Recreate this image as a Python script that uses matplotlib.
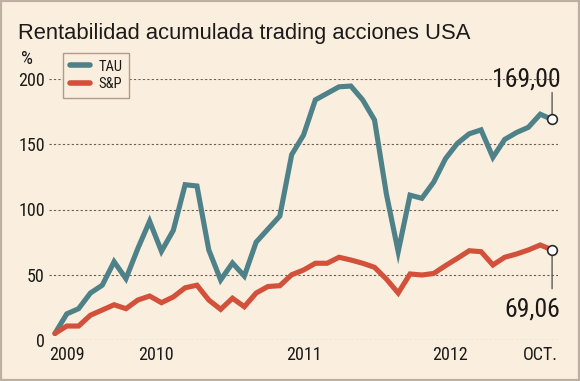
"""Rentabilidad acumulada trading acciones USA: TAU vs S&P."""

import matplotlib

matplotlib.use("Agg")
import matplotlib.pyplot as plt
import numpy as np
from matplotlib import font_manager
from matplotlib.patches import Rectangle

# monthly values, Apr 2009 .. Oct 2012 (index 0 .. 42)
tau = [5, 20, 24, 36, 42, 60, 47, 70, 91, 68, 84, 119, 118, 69, 46, 59, 49, 75,
       85, 95, 142, 157, 184, 189, 194, 194.6, 184, 168.6, 112, 67.7, 111, 108.6,
       121, 139, 150.7, 158, 161, 140, 153.7, 159, 163, 173, 169.00]
sp500 = [5, 10.7, 10.7, 19, 23, 27, 24, 30.6, 33.7, 28.6, 33, 40, 42, 30.6, 23.5,
         32, 25.5, 36, 41, 41.6, 50, 53.6, 58.8, 58.8, 63.4, 61.3, 58.8, 55.7, 46.7,
         36, 50.6, 49.8, 51, 57, 62.6, 68.4, 67.7, 57.5, 63.4, 65.9, 69, 72.8, 69.06]
series_names = ["TAU", "S&P"]
x_tick_pos = [1, 8.5, 21, 33.4, 41]
x_tick_labels = ["2009", "2010", "2011", "2012", "OCT."]
y_ticks = [0, 50, 100, 150, 200]

BG = "#faefdf"
TAU_COLOR = "#4f8189"
SP_COLOR = "#d3503b"
GRID_COLOR = "#6a5e55"
TEXT_COLOR = "#1c1a18"

# a narrow face for numbers/labels if one is around, plain sans otherwise
installed = {f.name for f in font_manager.fontManager.ttflist}
narrow = [n for n in ("Roboto Condensed", "Archivo Narrow", "Liberation Sans Narrow")
          if n in installed]
scale = 1.0 if narrow else 0.85
plt.rcParams["font.family"] = narrow + ["Liberation Sans", "DejaVu Sans"]

W, H = 580, 381
fig = plt.figure(figsize=(W / 100, H / 100), dpi=100, facecolor=BG)
ax = fig.add_axes([49 / W, 1 - 340 / H, (558 - 49) / W, (340 - 79) / H])
ax.set_facecolor(BG)

fig.patches.append(Rectangle((0.002, 0.003), 0.996, 0.994, transform=fig.transFigure,
                             fill=False, edgecolor="#bdb0a3", linewidth=1.6))

x = np.arange(len(tau))
ax.plot(x, tau, color=TAU_COLOR, linewidth=3.7, solid_joinstyle="miter",
        solid_capstyle="round", label=series_names[0], zorder=3)
ax.plot(x, sp500, color=SP_COLOR, linewidth=3.7, solid_joinstyle="miter",
        solid_capstyle="round", label=series_names[1], zorder=3)

ax.set_xlim(-0.5, len(tau) - 0.5)
ax.set_ylim(0, 200)
ax.set_yticks(y_ticks)
ax.set_xticks(x_tick_pos)
ax.set_xticklabels(x_tick_labels)
ax.tick_params(length=0, labelsize=13 * scale, colors=TEXT_COLOR)
ax.tick_params(axis="y", pad=3)
ax.tick_params(axis="x", pad=4)
ax.grid(axis="y", color=GRID_COLOR, linestyle=(0, (2, 2)), linewidth=0.8)
ax.set_axisbelow(True)
for spine in ax.spines.values():
    spine.set_visible(False)

# end markers, connectors and values
for values, up in ((tau, True), (sp500, False)):
    xe, ye = x[-1], values[-1]
    ax.annotate("", xy=(xe, ye), xytext=(0, 19.4 if up else -28),
                textcoords="offset points", annotation_clip=False,
                arrowprops=dict(arrowstyle="-", color="#4a4a4a", lw=0.9,
                                shrinkA=0, shrinkB=3.5))
    ax.annotate(f"{ye:.2f}".replace(".", ","), xy=(xe, ye),
                xytext=(6.2, 23.8 if up else -34.6), textcoords="offset points",
                ha="right", va="baseline" if up else "top", fontsize=18.5 * scale,
                color=TEXT_COLOR, annotation_clip=False)
    ax.plot(xe, ye, "o", markersize=7, markerfacecolor="white",
            markeredgecolor="#2a2a2a", markeredgewidth=1.2, zorder=5, clip_on=False)

leg = ax.legend(loc="upper left", bbox_to_anchor=(63 / W, 1 - 53 / H),
                bbox_transform=fig.transFigure, borderaxespad=0, fontsize=10.5 * scale,
                handlelength=1.4, handletextpad=0.6, labelspacing=0.25,
                borderpad=0.45, fancybox=False, framealpha=1, facecolor=BG,
                edgecolor="#b09a88")
leg.get_frame().set_linewidth(1.0)
for line in leg.get_lines():
    line.set_linewidth(4.0)
for text in leg.get_texts():
    text.set_color(TEXT_COLOR)

fig.text(18 / W, 1 - 39 / H, "Rentabilidad acumulada trading acciones USA",
         fontsize=15.8, family=["Liberation Sans", "DejaVu Sans"],
         color=TEXT_COLOR, va="baseline", ha="left")
fig.text(27 / W, 1 - 59 / H, "%", fontsize=13.5 * scale, color=TEXT_COLOR,
         ha="center", va="center")

fig.savefig("out.png", dpi=100, facecolor=BG)
